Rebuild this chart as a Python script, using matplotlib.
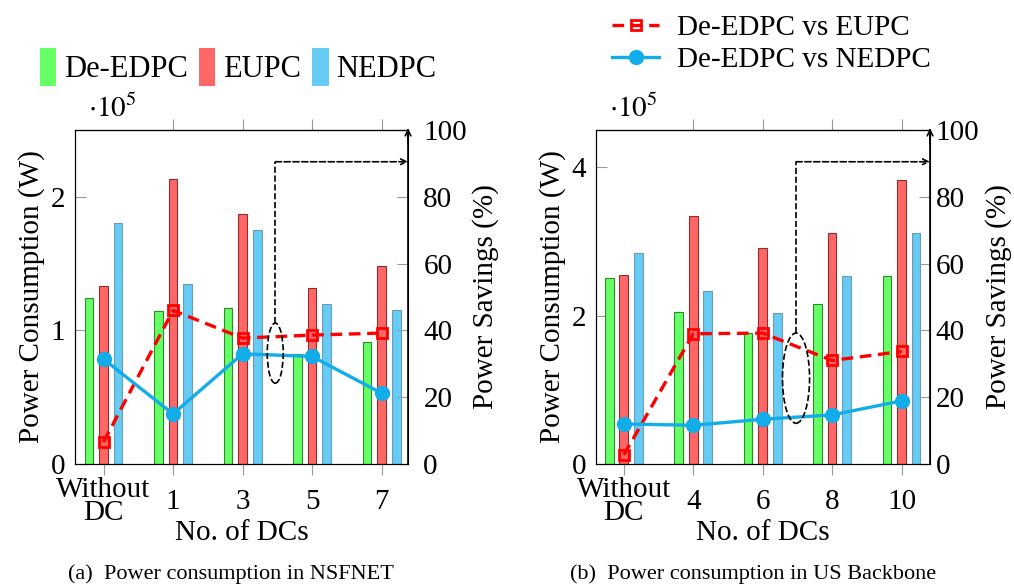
import numpy as np
import matplotlib.pyplot as plt
from matplotlib.patches import Ellipse, Patch
from matplotlib.lines import Line2D

plt.rcParams['font.family'] = ['Liberation Serif', 'DejaVu Serif']
plt.rcParams['mathtext.fontset'] = 'stix'

# values in units of 1e5 W, savings in %
nsf_labels = ['Without\nDC', '1', '3', '5', '7']
nsf_dedpc = [1.24, 1.145, 1.17, 0.82, 0.91]
nsf_eupc = [1.33, 2.13, 1.87, 1.32, 1.48]
nsf_nedpc = [1.805, 1.35, 1.75, 1.20, 1.15]
nsf_sav_eupc = [6.6, 46.0, 37.7, 38.6, 39.2]
nsf_sav_nedpc = [31.4, 15.0, 33.0, 32.2, 21.2]

us_labels = ['Without\nDC', '4', '6', '8', '10']
us_dedpc = [2.50, 2.05, 1.77, 2.15, 2.53]
us_eupc = [2.55, 3.34, 2.91, 3.11, 3.82]
us_nedpc = [2.84, 2.33, 2.04, 2.53, 3.11]
us_sav_eupc = [2.7, 39.0, 39.2, 31.0, 33.7]
us_sav_nedpc = [12.0, 11.6, 13.4, 14.7, 18.9]

GREEN, GREEN_E = '#66FF66', '#2E8B2E'
RED, RED_E = '#FF6666', '#8B3030'
BLUE, BLUE_E = '#66CCF5', '#6F9AB0'
LRED, LBLUE = '#FF0000', '#12ADE8'
TICKC = '#999999'
FS = 21
DASH = (0, (3.5, 2))


def panel(fig, rect, labels, dedpc, eupc, nedpc, sav_e, sav_n, ymax, yticks,
          xlim, ell, lpad, rpad, caption):
    ax = fig.add_axes(rect)
    x = np.arange(len(labels))
    w, off = 0.125, 0.21
    ax.bar(x - off, dedpc, w, color=GREEN, edgecolor=GREEN_E, lw=0.8, zorder=2)
    ax.bar(x, eupc, w, color=RED, edgecolor=RED_E, lw=0.8, zorder=2)
    ax.bar(x + off, nedpc, w, color=BLUE, edgecolor=BLUE_E, lw=0.8, zorder=2)
    ax.set_xlim(*xlim)
    ax.set_ylim(0, ymax)
    ax.set_yticks(yticks)
    ax.set_xticks(x)
    ax.set_xticklabels(labels, fontsize=FS, va='center', linespacing=0.82)
    ax.tick_params(axis='x', direction='out', length=8, color=TICKC, pad=19)
    ax.tick_params(axis='y', direction='in', length=8, color=TICKC,
                   labelsize=FS, pad=lpad)
    top = ax.secondary_xaxis('top')
    top.set_xticks(x[1:])
    top.set_xticklabels([])
    top.tick_params(direction='out', length=8, color=TICKC)
    ax.set_xlabel('No. of DCs', fontsize=FS, labelpad=-4)
    ax.set_ylabel('Power Consumption (W)', fontsize=FS, labelpad=4)
    ax.text(0.04, 1.02, r'$\cdot10^5$', transform=ax.transAxes, fontsize=FS,
            va='bottom')

    ax2 = ax.twinx()
    ax2.set_ylim(0, 100)
    ax2.set_yticks([0, 20, 40, 60, 80, 100])
    ax2.tick_params(axis='y', direction='in', length=8, color=TICKC,
                    labelsize=FS, pad=rpad)
    ax2.spines['right'].set_linewidth(1.2)
    ax2.plot(x, sav_e, color=LRED, ls=DASH, lw=2.4, marker='s', ms=6.5,
             mfc='none', mec=LRED, mew=2, zorder=3)
    ax2.plot(x, sav_n, color=LBLUE, lw=2.4, marker='o', ms=10, zorder=3)
    ax2.set_ylabel('Power Savings (%)', fontsize=FS, labelpad=4)

    # dashed ellipse and arrow pointing to the right axis
    ex, ey, ew, eh = ell
    ax2.add_patch(Ellipse((ex, ey), ew, eh, fill=False, ls='--', lw=1.2,
                          ec='black', zorder=4))
    ax2.plot([ex, ex], [ey + eh / 2, 90.5], color='black', ls='--', lw=1.2)
    ax2.annotate('', xy=(xlim[1], 90.5), xytext=(ex, 90.5),
                 arrowprops=dict(arrowstyle='->', ls='--', lw=1.2,
                                 shrinkA=0, shrinkB=0))
    ax2.annotate('', xy=(1, 1.005), xytext=(1, 0.96), xycoords='axes fraction',
                 arrowprops=dict(arrowstyle='->', lw=1.2, shrinkA=0, shrinkB=0))
    fig.text(rect[0] + rect[2] / 2 - 0.01, 0.013, caption, fontsize=16,
             ha='center')
    return ax


fig = plt.figure(figsize=(10.14, 5.87), dpi=100)

panel(fig, [0.074, 0.2095, 0.3284, 0.569], nsf_labels, nsf_dedpc, nsf_eupc,
      nsf_nedpc, nsf_sav_eupc, nsf_sav_nedpc, 2.5, [0, 1, 2], (-0.41, 4.38),
      (2.47, 33.2, 0.23, 18.0), 7, 11, '(a)  Power consumption in NSFNET')
panel(fig, [0.5878, 0.2095, 0.3294, 0.569], us_labels, us_dedpc, us_eupc,
      us_nedpc, us_sav_eupc, us_sav_nedpc, 4.5, [0, 2, 4], (-0.40, 4.41),
      (2.48, 25.7, 0.39, 27.0), 7, 4, '(b)  Power consumption in US Backbone')

bar_handles = [Patch(facecolor=GREEN, edgecolor='none'),
               Patch(facecolor=RED, edgecolor='none'),
               Patch(facecolor=BLUE, edgecolor='none')]
fig.legend(bar_handles, ['De-EDPC', 'EUPC', 'NEDPC'], loc='center left',
           bbox_to_anchor=(0.012, 0.886), ncol=3, frameon=False, fontsize=22,
           handlelength=0.55, handleheight=1.5, handletextpad=0.25,
           columnspacing=0.35)

line_handles = [Line2D([], [], color=LRED, ls=DASH, lw=2.4, marker='s',
                       ms=6.5, mfc='none', mec=LRED, mew=2),
                Line2D([], [], color=LBLUE, lw=2.4, marker='o', ms=10)]
fig.legend(line_handles, ['De-EDPC vs EUPC', 'De-EDPC vs NEDPC'],
           loc='upper left', bbox_to_anchor=(0.578, 1.02), frameon=False,
           fontsize=FS, handlelength=1.6, handletextpad=0.6, labelspacing=0.2)

fig.savefig('out.png', dpi=100)
